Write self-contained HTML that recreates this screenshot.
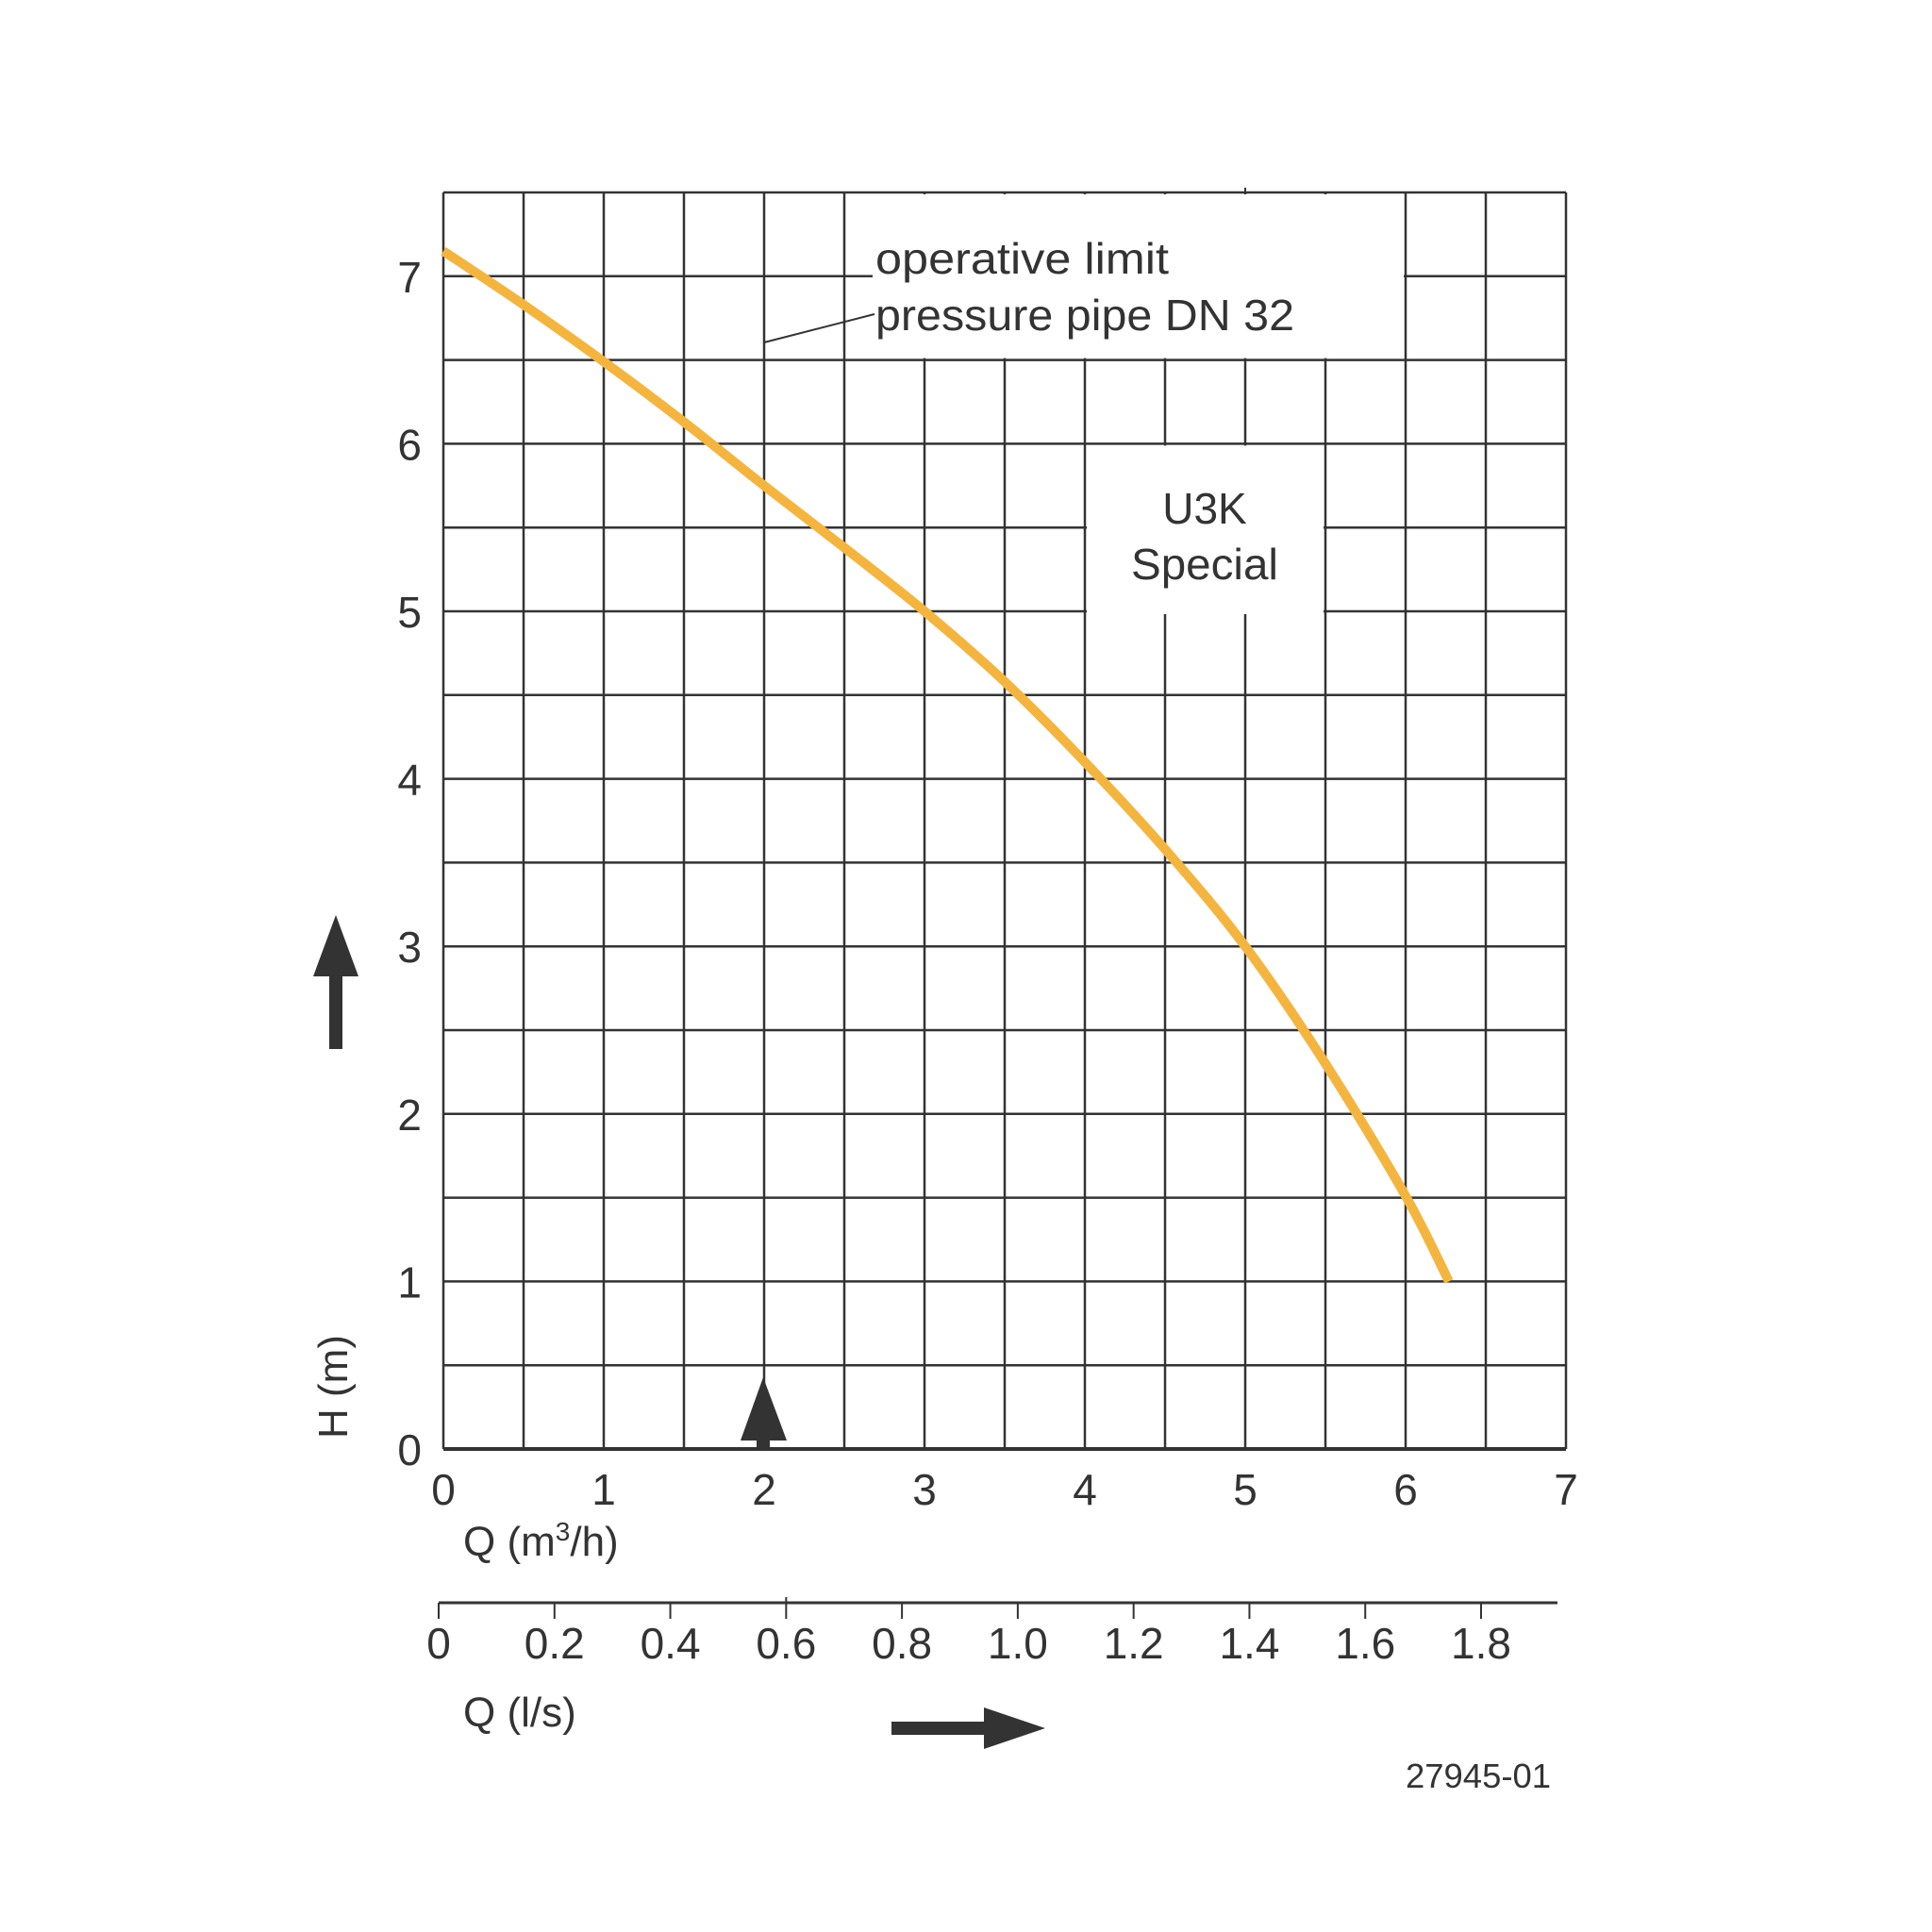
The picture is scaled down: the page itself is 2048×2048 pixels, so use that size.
<!DOCTYPE html>
<html><head><meta charset="utf-8"><style>
html,body{margin:0;padding:0;background:#fff;}
svg{display:block;}
text{font-family:"Liberation Sans",sans-serif;fill:#333;}
</style></head><body>
<svg id="c" width="2048" height="2048" viewBox="0 0 2048 2048" xmlns="http://www.w3.org/2000/svg">
<rect width="2048" height="2048" fill="#fff"/>
<g id="grid" stroke="#333" stroke-width="2.5"></g>
<g id="boxes"></g>
<g id="ann"></g>
<g id="curveG"></g>
<g id="labels"></g>
</svg>
<script>
const qTicks = [0,1,2,3,4,5,6,7];
const hTicks = [0,1,2,3,4,5,6,7];
const lsTicks = ["0","0.2","0.4","0.6","0.8","1.0","1.2","1.4","1.6","1.8"];
const lsValues = [0,0.2,0.4,0.6,0.8,1.0,1.2,1.4,1.6,1.8];
const curveQ = [0,0.5,1,1.5,2,2.5,3,3.5,4,4.5,5,5.5,6,6.27];
const curveH = [7.15,6.83,6.49,6.13,5.75,5.38,5.0,4.58,4.1,3.58,3.0,2.3,1.51,1.0];

const NS="http://www.w3.org/2000/svg";
const X0=470,X1=1660,Y0=1536,Ytop=204;
const X=q=>X0+q*(X1-X0)/7;
const Y=h=>Y0-h*(Y0-Ytop)/7.5;
const XL=v=>465+v*(1570-465)/1.8;
function mk(tag,attrs,parent,txt){const e=document.createElementNS(NS,tag);for(const k in attrs)e.setAttribute(k,attrs[k]);if(txt!==undefined)e.textContent=txt;parent.appendChild(e);return e;}
const grid=document.getElementById('grid');
for(let i=0;i<=14;i++){const q=i/2;
 const l=mk('line',{x1:X(q),x2:X(q),y1:Ytop,y2:Y0},grid);
 
 }
for(let i=0;i<=15;i++){const h=i/2;
 const l=mk('line',{x1:X0,x2:X1,y1:Y(h),y2:Y(h)},grid);
 
 }
mk('line',{x1:X0,x2:X1,y1:Y0,y2:Y0,'stroke-width':4},grid);
const boxes=document.getElementById('boxes');
const b1=mk('rect',{x:X(2.5)+2,y:Ytop+2,width:X(6)-X(2.5)-4,height:Y(6.5)-Ytop-4,fill:'#fff'},boxes);


const b2=mk('rect',{x:X(4)+2,y:Y(6)+2,width:X(5.5)-X(4)-4,height:Y(5)-Y(6)+1,fill:'#fff'},boxes);


const ann=document.getElementById('ann');
mk('line',{x1:X(2.5),x2:925,y1:Y(7),y2:Y(7),stroke:'#333','stroke-width':2.5},ann);
mk('line',{x1:X(2),y1:363,x2:927,y2:333,stroke:'#333','stroke-width':2},ann);
mk('line',{x1:X(5),x2:X(5),y1:Ytop-5,y2:Ytop+1,stroke:'#333','stroke-width':2},ann);
const t1=mk('text',{x:928,y:290,'font-size':46,textLength:311,lengthAdjust:'spacingAndGlyphs'},ann,'operative limit');


const t2=mk('text',{x:928,y:350,'font-size':46,textLength:444,lengthAdjust:'spacingAndGlyphs'},ann,'pressure pipe DN 32');


const t3=mk('text',{x:1277,y:555,'font-size':46,'text-anchor':'middle'},ann,'U3K');


const t4=mk('text',{x:1277,y:614,'font-size':46,'text-anchor':'middle',textLength:156,lengthAdjust:'spacingAndGlyphs'},ann,'Special');


// smooth curve (Catmull-Rom)
const cg=document.getElementById('curveG');
const P=curveQ.map((q,i)=>[X(q),Y(curveH[i])]);
let d='M'+P[0][0].toFixed(1)+','+P[0][1].toFixed(1);
for(let i=0;i<P.length-1;i++){const p0=P[Math.max(0,i-1)],p1=P[i],p2=P[i+1],p3=P[Math.min(P.length-1,i+2)];
 const c1=[p1[0]+(p2[0]-p0[0])/6,p1[1]+(p2[1]-p0[1])/6],c2=[p2[0]-(p3[0]-p1[0])/6,p2[1]-(p3[1]-p1[1])/6];
 d+='C'+c1.map(v=>v.toFixed(1)).join(',')+' '+c2.map(v=>v.toFixed(1)).join(',')+' '+p2.map(v=>v.toFixed(1)).join(',');}
const cp=mk('path',{d:d,fill:'none',stroke:'#F4B540','stroke-width':10,'stroke-linejoin':'round'},cg);


const lab=document.getElementById('labels');
hTicks.forEach(h=>{const t=mk('text',{x:447,y:Y(h)+17,'font-size':46,'text-anchor':'end'},lab,String(h));
 
 });
qTicks.forEach(q=>{const t=mk('text',{x:X(q),y:1595,'font-size':46,'text-anchor':'middle'},lab,String(q));
 
 });
const qm=mk('text',{x:491,y:1649,'font-size':44},lab);


qm.innerHTML='Q (m<tspan dy="-16" font-size="28">3</tspan><tspan dy="16">/h)</tspan>';
mk('line',{x1:465,x2:1651,y1:1699,y2:1699,stroke:'#333','stroke-width':3},lab);
lsValues.forEach((v,i)=>{const l=mk('line',{x1:XL(v),x2:XL(v),y1:i===3?1693:1699,y2:1716,stroke:'#333','stroke-width':2},lab);
 
 
 const t=mk('text',{x:XL(v),y:1758,'font-size':46,'text-anchor':'middle'},lab,lsTicks[i]);
 
 });
const ql=mk('text',{x:491,y:1830,'font-size':44},lab,'Q (l/s)');


const hl=mk('text',{x:0,y:0,'font-size':44,'text-anchor':'middle',transform:'translate(368,1470) rotate(-90)'},lab,'H (m)');


const code=mk('text',{x:1644,y:1895,'font-size':36,'text-anchor':'end',textLength:154,lengthAdjust:'spacingAndGlyphs'},lab,'27945-01');


const a1=mk('path',{d:'M356,970 L380,1035 L363,1035 L363,1112 L349,1112 L349,1035 L332,1035 Z',fill:'#333'},lab);


const a2=mk('path',{d:'M945,1825 L1043,1825 L1043,1810 L1108,1832 L1043,1854 L1043,1839 L945,1839 Z',fill:'#333'},lab);


const a3=mk('path',{d:'M809,1460 L834,1527 L816,1527 L816,1536 L802,1536 L802,1527 L785,1527 Z',fill:'#333'},lab);


</script>
</body></html>
